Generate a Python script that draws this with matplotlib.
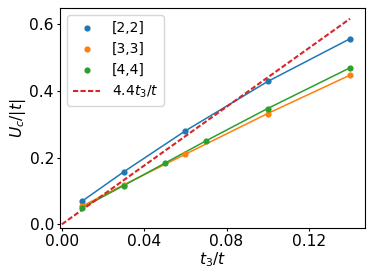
import matplotlib
matplotlib.use("Agg")
import matplotlib.pyplot as plt
import numpy as np

x22 = [0.01, 0.03, 0.06, 0.10, 0.14]
y22 = [0.070, 0.157, 0.280, 0.428, 0.556]
x33 = [0.01, 0.03, 0.06, 0.10, 0.14]
y33 = [0.055, 0.118, 0.210, 0.332, 0.447]
x44 = [0.01, 0.03, 0.05, 0.07, 0.10, 0.14]
y44 = [0.050, 0.116, 0.183, 0.250, 0.347, 0.469]
fit_x = [0.0, 0.14]
fit_slope = 4.4
xticks = [0.00, 0.04, 0.08, 0.12]
yticks = [0.0, 0.2, 0.4, 0.6]

fs = 11.2
lfs = 10.0
fig = plt.figure(figsize=(3.74, 2.80), dpi=100)
ax = fig.add_axes([0.161, 0.1875, 0.815, 0.7825])

for xs, ys, lab, c in [(x22, y22, "[2,2]", "C0"), (x33, y33, "[3,3]", "C1"), (x44, y44, "[4,4]", "C2")]:
    ax.scatter(xs, ys, s=20, color=c, label=lab, zorder=3, linewidths=0)
    ax.plot(xs, ys, color=c, lw=1.1, zorder=2)

fx = np.array(fit_x)
ax.plot(fx, fit_slope * fx, linestyle=(0, (2.5, 1.1)), color="C3", lw=1.5, label=r"$4.4t_3/t$")

ax.set_xlim(-0.0008, 0.1473)
ax.set_ylim(-0.0096, 0.647)
ax.set_xticks(xticks)
ax.set_xticklabels([f"{v:.2f}" for v in xticks])
ax.set_yticks(yticks)
ax.set_yticklabels([f"{v:.1f}" for v in yticks])
ax.tick_params(labelsize=fs, length=2.3, pad=2.2)
ax.set_xlabel(r"$t_3/t$", fontsize=fs, labelpad=1)
ax.set_ylabel(r"$U_c/|t|$", fontsize=fs, labelpad=1)
ax.legend(loc="upper left", fontsize=lfs)

fig.savefig("out.png", dpi=100)
